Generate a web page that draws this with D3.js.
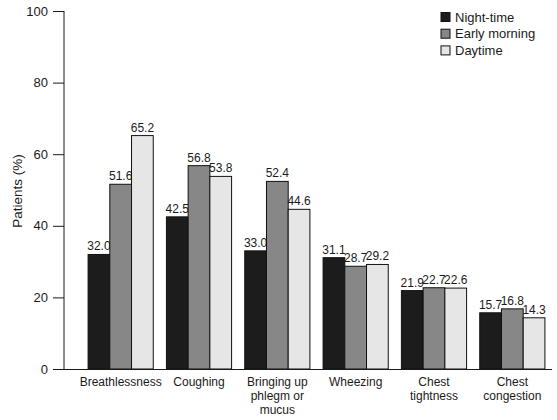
<!DOCTYPE html>
<html><head><meta charset="utf-8">
<script src="https://cdn.jsdelivr.net/npm/d3@7"></script>
<style>body{margin:0;background:#fff}text{font-family:"Liberation Sans",Arial,sans-serif;fill:#1a1a1a}</style>
</head><body>
<script>
const categories = [["Breathlessness"],["Coughing"],["Bringing up","phlegm or","mucus"],["Wheezing"],["Chest","tightness"],["Chest","congestion"]];
const seriesNames = ["Night-time","Early morning","Daytime"];
const nightTime = [32.0,42.5,33.0,31.1,21.9,15.7];
const earlyMorning = [51.6,56.8,52.4,28.7,22.7,16.8];
const daytime = [65.2,53.8,44.6,29.2,22.6,14.3];
const yTicks = [0,20,40,60,80,100];
const colors = ["#1c1c1c","#878787","#e6e6e6"];
const series = [nightTime, earlyMorning, daytime];

const W=557,H=420;
const svg=d3.select("body").append("svg").attr("width",W).attr("height",H);
const y=d3.scaleLinear().domain([0,100]).range([369,11]);
const x0=d3.scaleBand().domain(d3.range(categories.length)).range([81.5,551.5]).paddingInner(0.168).paddingOuter(0.084);
const x1=d3.scaleBand().domain(d3.range(3)).range([0,x0.bandwidth()]);

// y axis
const ya=svg.append("g").attr("transform","translate(64,0)").call(d3.axisLeft(y).tickValues(yTicks).tickSize(11).tickPadding(5));
ya.select(".domain").attr("stroke","#1a1a1a");
ya.selectAll(".tick line").attr("stroke","#1a1a1a");
ya.selectAll("text").attr("font-size","13px").style("fill","#1a1a1a");
ya.select(".domain").attr("d","M0,11V369");

svg.append("text").attr("transform","translate(22,191) rotate(-90)").attr("text-anchor","middle").attr("font-size","13.5px").text("Patients (%)");

// bars
const g=svg.append("g");
categories.forEach((c,i)=>{
  series.forEach((s,j)=>{
    const bx=x0(i)+x1(j);
    g.append("rect").attr("x",bx).attr("y",y(s[i])).attr("width",x1.bandwidth()).attr("height",y(0)-y(s[i]))
      .attr("fill",colors[j]).attr("stroke","#111").attr("stroke-width",1);
    g.append("text").attr("x",bx+x1.bandwidth()/2).attr("y",y(s[i])-4).attr("text-anchor","middle").attr("font-size","12px").text(s[i].toFixed(1));
  });
  const t=svg.append("text").attr("text-anchor","middle").attr("font-size","12px").attr("x",x0(i)+x0.bandwidth()/2).attr("y",385.5);
  c.forEach((line,k)=>t.append("tspan").attr("x",x0(i)+x0.bandwidth()/2).attr("dy",k===0?0:14.3).text(line));
});

// x axis line
svg.append("line").attr("x1",64).attr("x2",552).attr("y1",369.5).attr("y2",369.5).attr("stroke","#1a1a1a");

// legend
const lg=svg.append("g");
seriesNames.forEach((n,j)=>{
  lg.append("rect").attr("x",441).attr("y",12.5+j*16.7).attr("width",9).attr("height",9).attr("fill",colors[j]).attr("stroke","#111");
  lg.append("text").attr("x",455).attr("y",21.5+j*16.7).attr("font-size","13px").text(n);
});
</script>
</body></html>
